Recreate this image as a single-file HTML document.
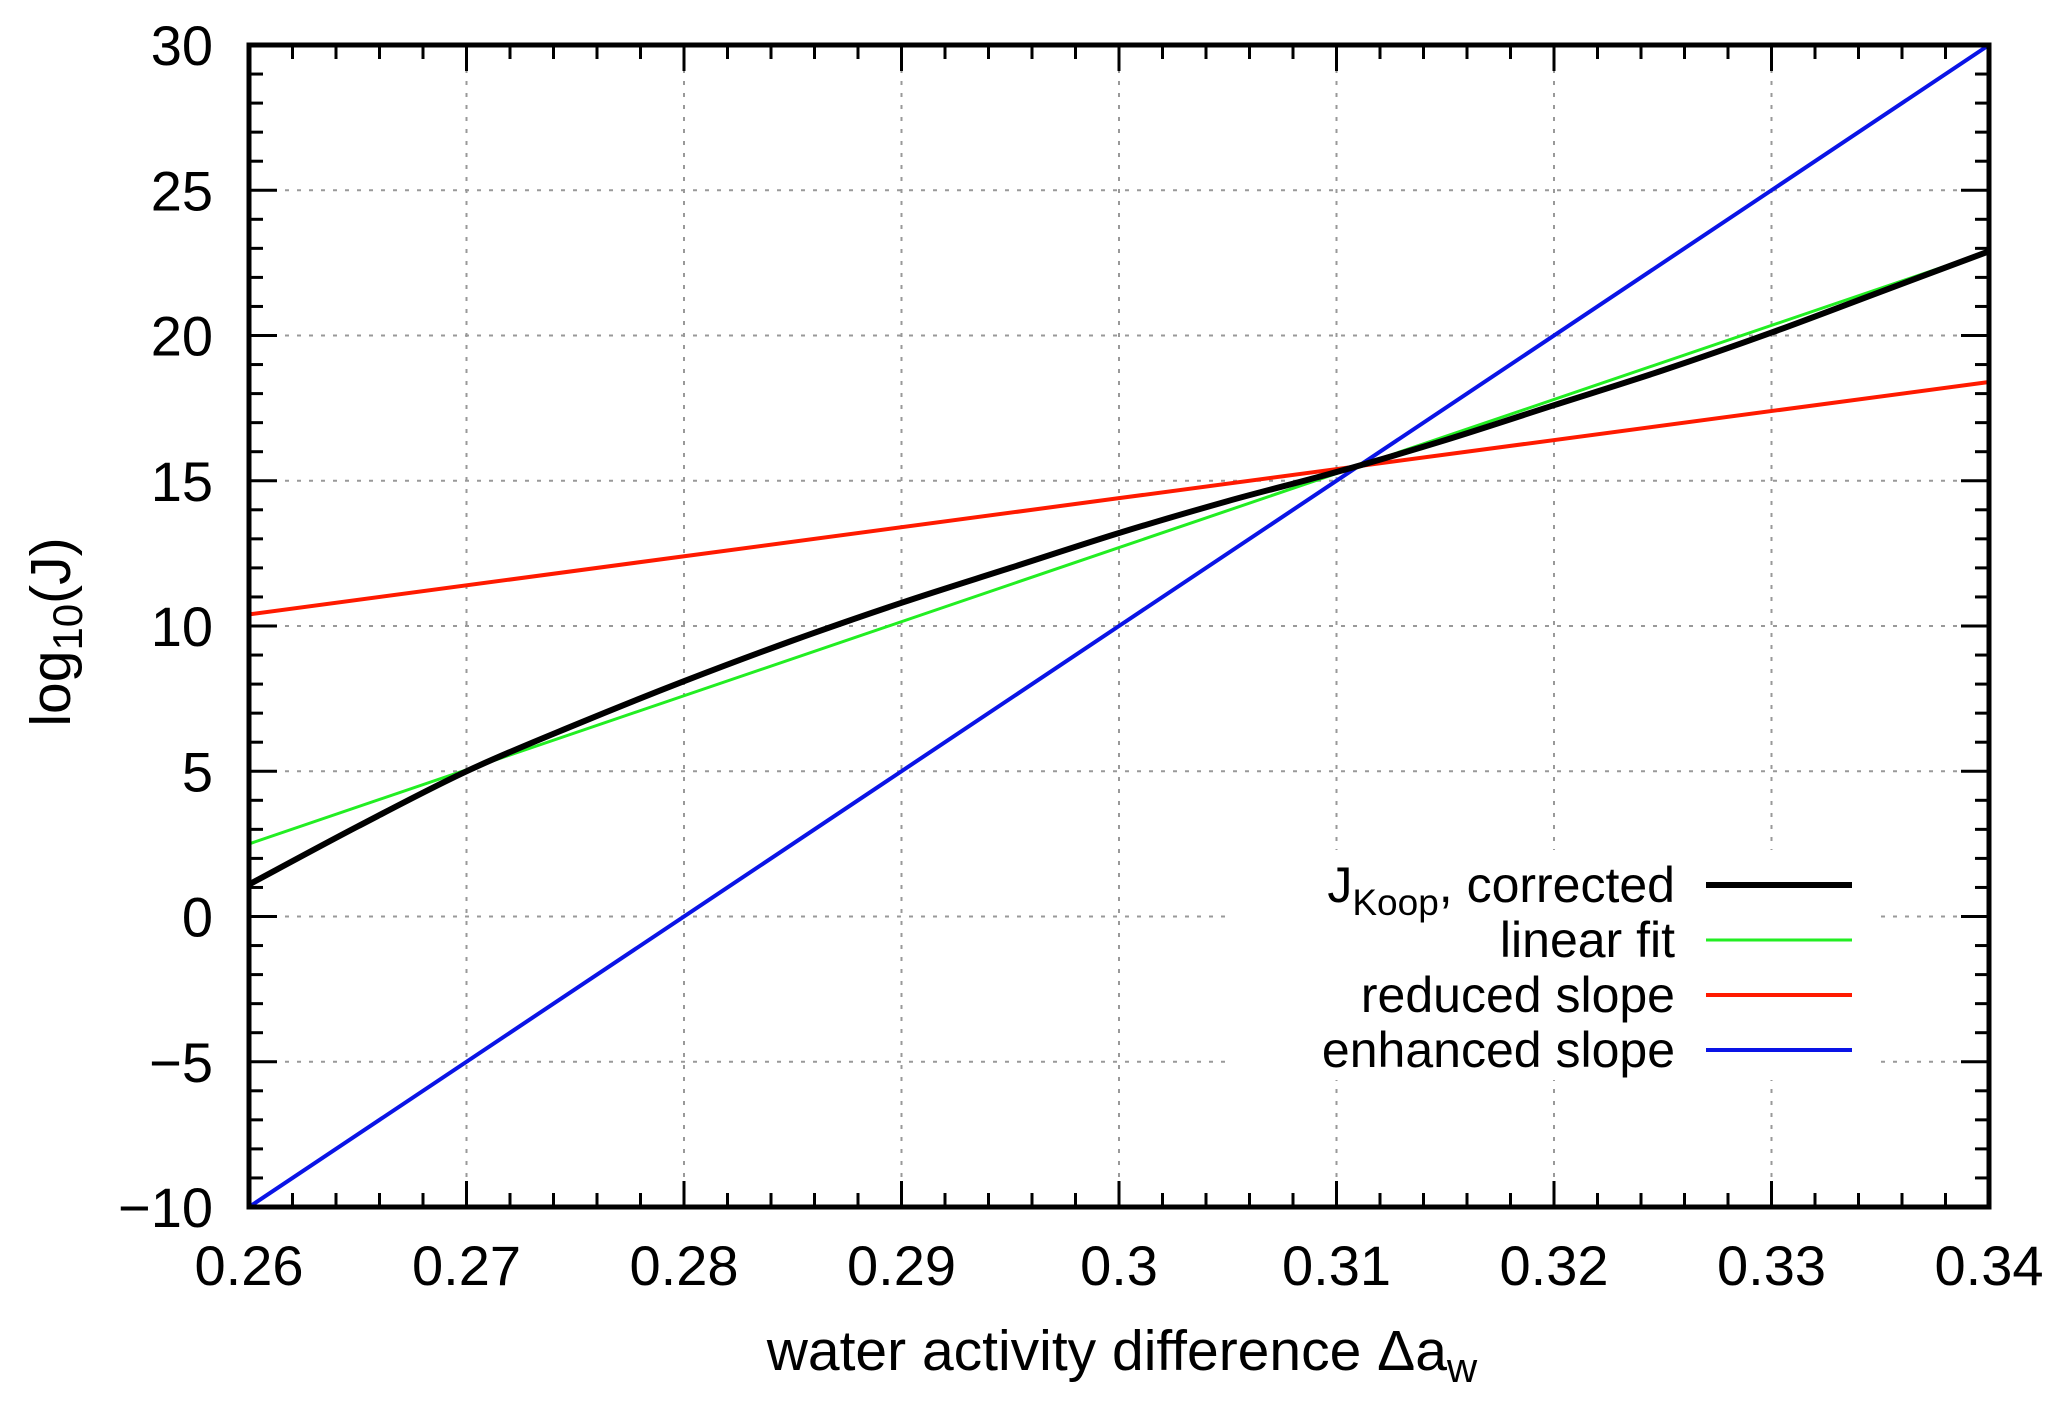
<!DOCTYPE html>
<html><head><meta charset="utf-8"><style>
html,body{margin:0;padding:0;background:#fff}
svg{display:block}
text{font-family:"Liberation Sans",Arial,sans-serif;fill:#000}
</style></head><body>
<svg id="chart" width="2067" height="1408" viewBox="0 0 2067 1408" xmlns="http://www.w3.org/2000/svg">
<rect width="2067" height="1408" fill="#fff"/>
<g id="grid"></g>
<rect id="legend-bg" x="1228" y="850" width="646" height="230" fill="#fff"/>
<g id="series"></g>
<g id="axes"></g>
<g id="legend"></g>
<text transform="translate(70,632) rotate(-90)" text-anchor="middle" font-size="57">log<tspan font-size="42" dy="12">10</tspan><tspan dy="-12">(J)</tspan></text>
<text x="1122" y="1370" text-anchor="middle" font-size="57">water activity difference Δa<tspan font-size="42" dy="12">w</tspan></text>
</svg>
<script>
const xTicks=[0.26,0.27,0.28,0.29,0.30,0.31,0.32,0.33,0.34];
const xTickLabels=["0.26","0.27","0.28","0.29","0.3","0.31","0.32","0.33","0.34"];
const yTicks=[-10,-5,0,5,10,15,20,25,30];
const yTickLabels=["\u221210","\u22125","0","5","10","15","20","25","30"];
const koopX=[0.26,0.265,0.27,0.275,0.28,0.285,0.29,0.295,0.30,0.305,0.31,0.315,0.32,0.325,0.33,0.335,0.34];
const koopY=[1.1,3.1,5.0,6.6,8.1,9.5,10.8,12.0,13.2,14.3,15.3,16.4,17.6,18.8,20.1,21.5,22.9];
const fitX=[0.26,0.34];
const fitY=[2.5,22.9];
const reducedX=[0.26,0.34];
const reducedY=[10.4,18.4];
const enhancedX=[0.26,0.34];
const enhancedY=[-10,30];

const L=249,R=1989,T=45,B=1207;
const xMin=0.26,xMax=0.34,yMin=-10,yMax=30;
const sx=v=>L+(v-xMin)/(xMax-xMin)*(R-L);
const sy=v=>B-(v-yMin)/(yMax-yMin)*(B-T);
const NS="http://www.w3.org/2000/svg";
function mk(tag,attrs,parent){const e=document.createElementNS(NS,tag);for(const k in attrs)e.setAttribute(k,attrs[k]);parent.appendChild(e);return e;}
const grid=document.getElementById('grid'),axes=document.getElementById('axes'),series=document.getElementById('series'),legend=document.getElementById('legend');

xTicks.forEach((v,i)=>{
  const x=sx(v);
  if(i>0&&i<xTicks.length-1){const g=mk('line',{x1:x,x2:x,y1:T,y2:B,stroke:'#999','stroke-width':2,'stroke-dasharray':'4,8'},grid);
  
  }
  const t=mk('line',{x1:x,x2:x,y1:B,y2:B-26,stroke:'#000','stroke-width':3},axes);
  
  
  const t2=mk('line',{x1:x,x2:x,y1:T,y2:T+26,stroke:'#000','stroke-width':3},axes);
  
  
  const lb=mk('text',{x:x,y:1285,'text-anchor':'middle','font-size':56},axes);
  lb.textContent=xTickLabels[i];
  
  
  if(i<xTicks.length-1){for(let k=1;k<5;k++){const xm=sx(v+k*0.002);
    const m=mk('line',{x1:xm,x2:xm,y1:B,y2:B-14,stroke:'#000','stroke-width':3},axes);
    
    
    const m2=mk('line',{x1:xm,x2:xm,y1:T,y2:T+14,stroke:'#000','stroke-width':3},axes);
    
    }}
});
yTicks.forEach((v,i)=>{
  const y=sy(v);
  if(i>0&&i<yTicks.length-1){const g=mk('line',{x1:L,x2:R,y1:y,y2:y,stroke:'#999','stroke-width':2,'stroke-dasharray':'4,8'},grid);
  
  }
  const t=mk('line',{x1:L,x2:L+28,y1:y,y2:y,stroke:'#000','stroke-width':3},axes);
  
  
  const t2=mk('line',{x1:R,x2:R-28,y1:y,y2:y,stroke:'#000','stroke-width':3},axes);
  
  
  const lb=mk('text',{x:213,y:y+20,'text-anchor':'end','font-size':56},axes);
  lb.textContent=yTickLabels[i];
  
  
  if(i<yTicks.length-1){for(let k=1;k<5;k++){const ym=sy(v+k);
    const m=mk('line',{x1:L,x2:L+14,y1:ym,y2:ym,stroke:'#000','stroke-width':3},axes);
    
    
    const m2=mk('line',{x1:R,x2:R-14,y1:ym,y2:ym,stroke:'#000','stroke-width':3},axes);
    
    }}
});
const frame=mk('rect',{x:L,y:T,width:R-L,height:B-T,fill:'none',stroke:'#000','stroke-width':5},axes);



function line(xs,ys,color,w,name){
  const P=xs.map((x,i)=>[sx(x),sy(ys[i])]);
  let d='M'+P[0][0].toFixed(1)+','+P[0][1].toFixed(1);
  for(let i=0;i<P.length-1;i++){
    const p0=P[Math.max(i-1,0)],p1=P[i],p2=P[i+1],p3=P[Math.min(i+2,P.length-1)];
    const c1=[p1[0]+(p2[0]-p0[0])/6,p1[1]+(p2[1]-p0[1])/6];
    const c2=[p2[0]-(p3[0]-p1[0])/6,p2[1]-(p3[1]-p1[1])/6];
    d+=' C'+c1[0].toFixed(1)+','+c1[1].toFixed(1)+' '+c2[0].toFixed(1)+','+c2[1].toFixed(1)+' '+p2[0].toFixed(1)+','+p2[1].toFixed(1);
  }
  const p=mk('path',{d:d,fill:'none',stroke:color,'stroke-width':w,'stroke-linejoin':'round'},series);
  
  
}
line(fitX,fitY,'#22ee22',3,'linear-fit-line');
line(reducedX,reducedY,'#ff1a00',4,'reduced-slope-line');
line(enhancedX,enhancedY,'#0a14e6',4,'enhanced-slope-line');
line(koopX,koopY,'#000',6,'jkoop-corrected-line');

const legRows=[
  {y:885,color:'#000',w:6,name:'legend-entry-jkoop'},
  {y:940,color:'#22ee22',w:3,name:'legend-entry-linear-fit',label:'linear fit'},
  {y:995,color:'#ff1a00',w:4,name:'legend-entry-reduced-slope',label:'reduced slope'},
  {y:1050,color:'#0a14e6',w:4,name:'legend-entry-enhanced-slope',label:'enhanced slope'}];
legRows.forEach(r=>{
  const g=mk('g',{},legend);
  
  
  mk('line',{x1:1706,x2:1852,y1:r.y,y2:r.y,stroke:r.color,'stroke-width':r.w},g);
  const t=mk('text',{x:1675,y:r.y+17,'text-anchor':'end','font-size':50},g);
  if(r.label){t.textContent=r.label;}
  else{t.innerHTML='J<tspan font-size="37" dy="13">Koop</tspan><tspan dy="-13">, corrected</tspan>';}
});
</script>
</body></html>
